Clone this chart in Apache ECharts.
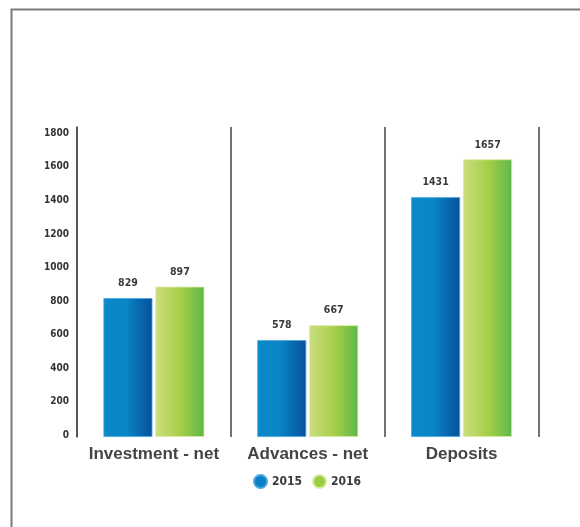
<!DOCTYPE html>
<html>
<head>
<meta charset="utf-8">
<script src="https://cdn.jsdelivr.net/npm/echarts@6/dist/echarts.min.js"></script>
<style>
  html, body { margin: 0; padding: 0; background: #fff; }
  #chart { width: 580px; height: 527px; }
</style>
</head>
<body>
<div id="chart"></div>
<script>
// Balance sheet highlights, two years side by side
const categories = ['Investment - net', 'Advances - net', 'Deposits'];
const years = ['2015', '2016'];
const values2015 = [829, 578, 1431];
const values2016 = [897, 667, 1657];
const yTicks = [0, 200, 400, 600, 800, 1000, 1200, 1400, 1600, 1800];

const condensed = '"DejaVu Sans Condensed", "Liberation Sans Narrow", "Roboto", sans-serif';

const blueFill = new echarts.graphic.LinearGradient(0, 0, 1, 0, [
  { offset: 0, color: '#0a88c9' },
  { offset: 0.45, color: '#0a86c6' },
  { offset: 1, color: '#074f9b' }
]);
const greenFill = new echarts.graphic.LinearGradient(0, 0, 1, 0, [
  { offset: 0, color: '#cbde7e' },
  { offset: 0.5, color: '#a9cf4a' },
  { offset: 1, color: '#5cb847' }
]);

const valueLabel = {
  show: true, position: 'top', distance: 9,
  fontFamily: condensed, fontWeight: 'bold', fontSize: 10.5, color: '#3a3a3a'
};

const chart = echarts.init(document.getElementById('chart'), null, { renderer: 'canvas' });

chart.setOption({
  backgroundColor: '#ffffff',
  animation: false,
  graphic: [{
    type: 'rect',
    shape: { x: 11.5, y: 9.5, width: 600, height: 560 },
    style: { fill: 'none', stroke: '#7a7a7a', lineWidth: 2 },
    silent: true
  }],
  grid: { left: 77, right: 41.5, top: 127, bottom: 90 },
  legend: {
    data: [
      { name: years[0], itemStyle: { color: '#0a7fc6' } },
      { name: years[1], itemStyle: { color: '#9ccb45' } }
    ],
    left: 248,
    top: 469,
    icon: 'circle',
    itemWidth: 13,
    itemHeight: 13,
    itemGap: 10,
    textStyle: { fontFamily: condensed, fontWeight: 'bold', fontSize: 12, color: '#3a3a3a' }
  },
  xAxis: {
    type: 'category',
    data: categories,
    axisLine: { show: false },
    axisTick: { show: false },
    splitLine: { show: true, lineStyle: { color: '#505050', width: 1.6 } },
    axisLabel: {
      interval: 0,
      margin: 9,
      fontFamily: '"Liberation Sans", Arial, sans-serif',
      fontWeight: 'bold',
      fontSize: 17,
      color: '#444444'
    }
  },
  yAxis: {
    type: 'value',
    min: 0,
    max: 1850,
    interval: 200,
    axisLine: { show: true, lineStyle: { color: '#505050', width: 1.6 } },
    axisTick: { show: false },
    splitLine: { show: false },
    axisLabel: {
      showMaxLabel: false,
      margin: 8,
      verticalAlign: 'bottom',
      lineHeight: 4,
      fontFamily: condensed,
      fontWeight: 'bold',
      fontSize: 10,
      color: '#333333',
      formatter: function (v) { return yTicks.indexOf(v) >= 0 ? String(v) : ''; }
    }
  },
  series: [
    {
      name: years[0],
      type: 'bar',
      data: values2015,
      barWidth: 49,
      barGap: '6%',
      itemStyle: { color: blueFill, borderColor: '#4aa8e0', borderWidth: 0.8 },
      label: valueLabel
    },
    {
      name: years[1],
      type: 'bar',
      data: values2016,
      barWidth: 49,
      itemStyle: { color: greenFill, borderColor: '#d9eaa0', borderWidth: 0.8 },
      label: valueLabel
    }
  ]
});
</script>
</body>
</html>
